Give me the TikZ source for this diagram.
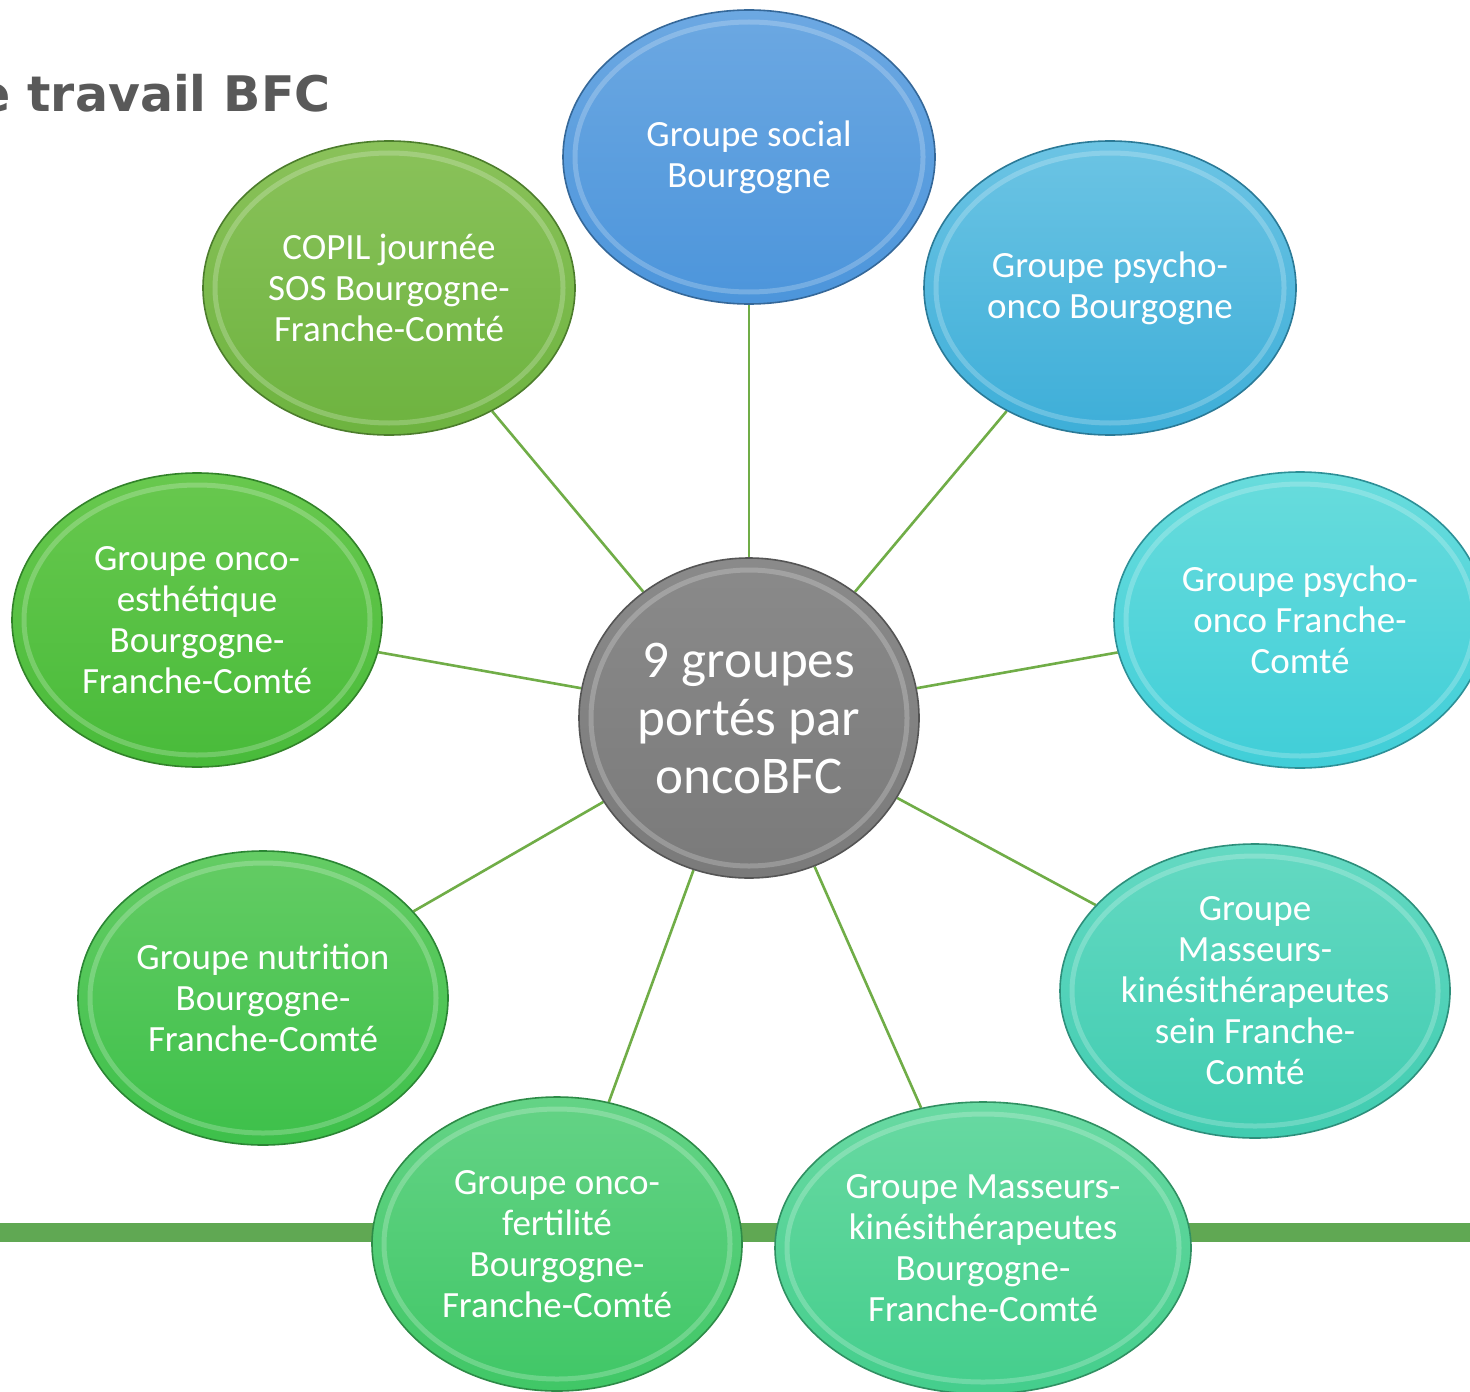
\documentclass[tikz,border=0pt]{standalone}
\usepackage{fontspec}
\setmainfont{Carlito}
\newfontfamily\titlefont{DejaVu Sans}
\usetikzlibrary{shapes.geometric}
\pgfdeclarelayer{bg}
\pgfsetlayers{bg,main}
\definecolor{linkgreen}{HTML}{70AD47}
\definecolor{bargreen}{HTML}{60A853}
\definecolor{titlegray}{HTML}{595959}
\definecolor{socT}{HTML}{6CA8E2}\definecolor{socB}{HTML}{4C95DB}
\definecolor{psbT}{HTML}{6CC4E4}\definecolor{psbB}{HTML}{3DAED8}
\definecolor{psfT}{HTML}{68DCDC}\definecolor{psfB}{HTML}{40CED8}
\definecolor{msfT}{HTML}{64D9C2}\definecolor{msfB}{HTML}{40CCB0}
\definecolor{mbT}{HTML}{68D9A2}\definecolor{mbB}{HTML}{44CE8C}
\definecolor{ofT}{HTML}{64D386}\definecolor{ofB}{HTML}{40C766}
\definecolor{nuT}{HTML}{64CC64}\definecolor{nuB}{HTML}{3DC04A}
\definecolor{esT}{HTML}{68C84E}\definecolor{esB}{HTML}{48BB3A}
\definecolor{coT}{HTML}{8AC25A}\definecolor{coB}{HTML}{6DB33F}
\definecolor{ceT}{HTML}{8A8A8A}\definecolor{ceB}{HTML}{7A7A7A}
\tikzset{
  bubble/.style={ellipse, inner sep=0pt, align=center, text=white,
    font=\fontsize{18.5}{20.5}\selectfont, line width=0.8pt},
  rimhl/.style={white, opacity=0.22, line width=2.5pt},
  link/.style={draw=linkgreen, line width=1.3pt},
}
\newcommand\bub[8]{%
  \node[bubble, minimum width=#4pt, minimum height=#5pt, top color=#6, bottom color=#7,
        draw=#7!70!black] (#1) at (#2,#3) {#8};
  \draw[rimhl] (#1.center) ellipse [x radius=0.5*#4pt-6pt, y radius=0.5*#5pt-6pt];
}
\begin{document}
\begin{tikzpicture}[x=0.5pt, y=-0.5pt]
\useasboundingbox (0,0) rectangle (1470,1391);
\node[anchor=base east, inner sep=0pt, text=titlegray,
      font=\titlefont\bfseries\fontsize{24.5}{28}\selectfont] (title) at (331,112) {e travail BFC};
\coordinate (barL) at (-10,1232);
\coordinate (barR) at (1480,1232);
\bub{ctr}{749}{718}{170}{160}{ceT}{ceB}{}
\node[font=\fontsize{26.5}{29}\selectfont, text=white, align=center, inner sep=0pt] (ctrtxt) at (749,718) {9 groupes\\portés par\\oncoBFC};
\bub{soc}{749}{157}{186}{147}{socT}{socB}{Groupe social\\Bourgogne}
\bub{psb}{1110}{288}{186}{147}{psbT}{psbB}{Groupe psycho-\\onco Bourgogne}
\bub{psf}{1300}{620}{186}{148}{psfT}{psfB}{Groupe psycho-\\onco Franche-\\Comté}
\bub{msf}{1255}{991}{195}{147}{msfT}{msfB}{Groupe\\Masseurs-\\kinésithérapeutes\\sein Franche-\\Comté}
\bub{mb}{983}{1248}{208}{146}{mbT}{mbB}{Groupe Masseurs-\\kinésithérapeutes\\Bourgogne-\\Franche-Comté}
\bub{of}{557}{1244}{185}{147}{ofT}{ofB}{Groupe onco-\\fertilité\\Bourgogne-\\Franche-Comté}
\bub{nu}{263}{998}{185}{147}{nuT}{nuB}{Groupe nutrition\\Bourgogne-\\Franche-Comté}
\bub{es}{197}{620}{185}{147}{esT}{esB}{Groupe onco-\\esthétique\\Bourgogne-\\Franche-Comté}
\bub{co}{389}{288}{186}{147}{coT}{coB}{COPIL journée\\SOS Bourgogne-\\Franche-Comté}
\begin{pgfonlayer}{bg}
  \fill[white] (0,0) rectangle (1470,1391);
  \draw[bargreen, line width=9.5pt] (barL) -- (barR);
  \foreach \n in {soc,psb,psf,msf,mb,of,nu,es,co}
    \draw[link] (ctr) -- (\n);
\end{pgfonlayer}
\end{tikzpicture}
\end{document}
